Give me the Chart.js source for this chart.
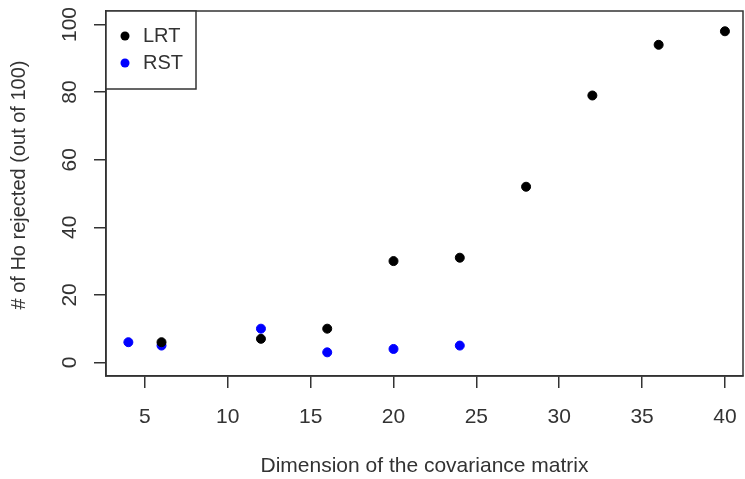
<!DOCTYPE html>
<html>
<head>
<meta charset="utf-8">
<script src="https://cdn.jsdelivr.net/npm/chart.js@4"></script>
<style>
  body { margin: 0; background: #fff; }
</style>
</head>
<body>
<canvas id="myChart" width="745" height="479"></canvas>
<script>
// data
const lrtX = [6, 12, 16, 20, 24, 28, 32, 36, 40];
const lrtY = [6, 7, 10, 30, 31, 52, 79, 94, 98];
const rstX = [4, 6, 12, 16, 20, 24];
const rstY = [6, 5, 10, 3, 4, 5];
const xTicks = [5, 10, 15, 20, 25, 30, 35, 40];
const yTicks = [0, 20, 40, 60, 80, 100];

const textColor = '#333';
const fontFamily = '"Liberation Sans", Arial, sans-serif';

function toPoints(xs, ys) {
  return xs.map((x, i) => ({ x: x, y: ys[i] }));
}

// R-like box, rotated y labels, y title and boxed legend
const rStyle = {
  id: 'rStyle',
  afterDraw(chart) {
    const ctx = chart.ctx;
    const a = chart.chartArea;
    const y = chart.scales.y;
    ctx.save();
    ctx.strokeStyle = textColor;
    ctx.lineWidth = 1.5;
    ctx.strokeRect(a.left, a.top, a.right - a.left, a.bottom - a.top);

    ctx.fillStyle = textColor;
    ctx.font = '21px ' + fontFamily;
    ctx.textAlign = 'center';
    ctx.textBaseline = 'middle';
    y.ticks.forEach(t => {
      ctx.save();
      ctx.translate(70, y.getPixelForValue(t.value));
      ctx.rotate(-Math.PI / 2);
      ctx.fillText(String(t.value), 0, 0);
      ctx.restore();
    });

    ctx.save();
    ctx.font = '20px ' + fontFamily;
    ctx.translate(19, 185);
    ctx.rotate(-Math.PI / 2);
    ctx.fillText('# of Ho rejected (out of 100)', 0, 0);
    ctx.restore();

    // legend
    const lx = a.left, ly = a.top;
    ctx.font = '20px ' + fontFamily;
    ctx.fillStyle = '#fff';
    ctx.fillRect(lx, ly, 90, 78);
    ctx.strokeRect(lx, ly, 90, 78);
    ctx.textAlign = 'left';
    chart.data.datasets.forEach((ds, i) => {
      const cy = ly + 25 + i * 27;
      ctx.beginPath();
      ctx.arc(lx + 19, cy, 4.5, 0, Math.PI * 2);
      ctx.fillStyle = ds.backgroundColor;
      ctx.fill();
      ctx.fillStyle = textColor;
      ctx.fillText(ds.label, lx + 37, cy);
    });
    ctx.restore();
  }
};

const ctx = document.getElementById('myChart');
const myChart = new Chart(ctx, {
  type: 'scatter',
  data: {
    datasets: [{
      label: 'LRT',
      data: toPoints(lrtX, lrtY),
      backgroundColor: '#000',
      borderColor: '#000',
      pointRadius: 4.5
    }, {
      label: 'RST',
      data: toPoints(rstX, rstY),
      backgroundColor: '#0000ff',
      borderColor: '#0000ff',
      pointRadius: 4.5
    }]
  },
  options: {
    responsive: false,
    animation: false,
    layout: { autoPadding: false, padding: { top: 11, right: 2, left: 0, bottom: 0 } },
    plugins: {
      legend: { display: false },
      tooltip: { enabled: false }
    },
    scales: {
      x: {
        type: 'linear',
        min: 2.65,
        max: 41.09,
        afterBuildTicks: s => { s.ticks = xTicks.map(v => ({ value: v })); },
        afterFit: s => { s.height = 103; s.paddingLeft = 0; s.paddingRight = 0; },
        grid: { drawOnChartArea: false, drawTicks: true, tickLength: 12, color: textColor, lineWidth: 1.5 },
        border: { display: true, color: textColor, width: 1.5 },
        ticks: { color: textColor, padding: 17, maxRotation: 0, font: { size: 21, family: fontFamily } },
        title: {
          display: true,
          text: 'Dimension of the covariance matrix',
          color: textColor,
          padding: { top: 0, bottom: 0 },
          font: { size: 21, family: fontFamily }
        }
      },
      y: {
        min: -4,
        max: 104,
        afterBuildTicks: s => { s.ticks = yTicks.map(v => ({ value: v })); },
        afterFit: s => { s.width = 106; s.paddingTop = 0; s.paddingBottom = 0; },
        grid: { drawOnChartArea: false, drawTicks: true, tickLength: 12, color: textColor, lineWidth: 1.5 },
        border: { display: true, color: textColor, width: 1.5 },
        ticks: { display: false },
        title: { display: false }
      }
    }
  },
  plugins: [rStyle]
});
</script>
</body>
</html>
